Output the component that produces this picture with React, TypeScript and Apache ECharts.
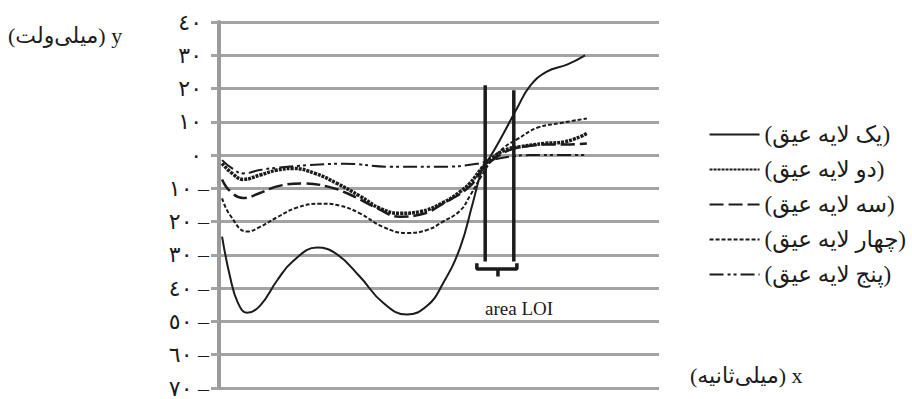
import React, { useEffect, useRef } from "react";
import * as echarts from "echarts";

// y axis ticks (millivolt)
const yMin = -70;
const yMax = 40;
const yStep = 10;

// legend names
const seriesNames = [
  "(یک لایه عیق)",
  "(دو لایه عیق)",
  "(سه لایه عیق)",
  "(چهار لایه عیق)",
  "(پنج لایه عیق)",
];

// series values [x (ms, arbitrary scale 0..100), y (mV)]
const oneLayer = [
  [0.7, -24.5], [2.5, -36.5], [4.3, -44.4], [6.4, -47.4], [9.3, -45.3], [13.2, -37.7],
  [16.8, -31.9], [22.3, -27.8], [26.8, -29.8], [32, -36.5], [37.3, -44.4], [42.7, -47.9],
  [47.3, -45.3], [50.9, -38.6], [54.8, -27.8], [57.7, -14.3], [60, -3.5], [61.6, -0.6],
  [64.5, 6.1], [67.7, 14], [70.7, 20.8], [74.5, 25.1], [79.1, 27.2], [83.2, 30],
];
const twoLayer = [
  [0.7, -2.5], [3, -5.5], [5.5, -7.3], [9.3, -6], [13.2, -4.5], [16.8, -4], [21.8, -5.5],
  [26.8, -8.5], [32, -12.3], [36.6, -16], [41.1, -17.5], [45.7, -17], [50.9, -14.3],
  [54.8, -11], [57, -8.5], [60, -3.5], [62, -1], [65, 1.5], [68.4, 2.5], [74, 3.5],
  [78.6, 4], [83.6, 6.5],
];
const threeLayer = [
  [0.7, -7.3], [2.5, -10.8], [5.5, -12.9], [9.3, -11.4], [13.2, -9.4], [19, -8.5],
  [24.5, -9.4], [29.5, -11.7], [35.7, -15.8], [41.1, -18.5], [46, -17.8], [50.9, -14.6],
  [57, -9.4], [60, -4], [62.7, -1], [66, 1.5], [70.7, 2.8], [75.2, 3.2], [79.8, 3.2],
  [83.6, 3.5],
];
const fourLayer = [
  [0.7, -13], [2.5, -18], [6.4, -23], [9.3, -21.6], [13.2, -18.7], [17.7, -15.8],
  [23, -14.6], [27.5, -15.2], [32, -17.5], [37.3, -21.6], [42.7, -23.4], [47.3, -22.5],
  [50.9, -20], [54.8, -16.7], [57, -12.3], [60, -5.5], [62, -1.5], [65, 2.5], [67.7, 4.7],
  [72.3, 8.2], [77.5, 9.6], [83.6, 11],
];
const fiveLayer = [
  [0.7, -1.5], [3, -4], [5.5, -5.5], [9.3, -4.5], [13.2, -3.8], [20.7, -3], [28.2, -2.6],
  [39.5, -3.5], [50.9, -3.5], [58.6, -2.6], [62, -1.5], [66, -0.5], [70.7, 0], [83.6, 0],
];

// LOI markers
const loiLeft = [[60.5, 21], [60.5, -32]];
const loiRight = [[67, 19.5], [67, -32]];
const loiBracket = [[58.6, -32.5], [58.6, -34.2], [67.7, -34.2], [67.7, -32.5]];
const loiBracketTick = [[63.4, -34.2], [63.4, -36.5]];

const arabicDigits = ["٠", "١", "٢", "٣", "٤", "٥", "٦", "٧", "٨", "٩"];
const toArabic = (n: number) =>
  String(Math.abs(n))
    .split("")
    .map((c) => arabicDigits[Number(c)] ?? c)
    .join("");

const INK = "#1b1b1b";
const GRID = "#a3a3a3";
const FONT = "'Liberation Serif', 'DejaVu Sans', serif";

export default function App() {
  const ref = useRef<HTMLDivElement>(null);
  useEffect(() => {
    if (!ref.current) return;
    const chart = echarts.init(ref.current, undefined, { renderer: "svg" });
    const lineSeries = (name: string, data: number[][], lineStyle: any) => ({
      name,
      type: "line",
      data,
      smooth: 0.45,
      symbol: "none",
      lineStyle: { color: INK, ...lineStyle },
      itemStyle: { color: INK },
      z: 3,
    });
    const markSeries = (data: number[][]) => ({
      type: "line",
      data,
      symbol: "none",
      smooth: false,
      lineStyle: { color: INK, width: 3.5 },
      z: 4,
      silent: true,
    });
    chart.setOption({
      animation: false,
      grid: { left: 219, right: 253, top: 22, bottom: 2, containLabel: false },
      xAxis: { type: "value", min: 0, max: 100, show: false },
      yAxis: {
        type: "value",
        min: yMin,
        max: yMax,
        interval: yStep,
        axisLine: { show: true, lineStyle: { color: "#9a9a9a", width: 4 } },
        axisTick: { show: true, length: 8, lineStyle: { color: GRID, width: 3 } },
        splitLine: { show: true, lineStyle: { color: GRID, width: 3 } },
        axisLabel: {
          margin: 10,
          color: INK,
          fontFamily: FONT,
          fontSize: 22,
          formatter: (v: number) =>
            v < 0 ? `${toArabic(v)} –` : `{p|${toArabic(v)}}`,
          rich: { p: { padding: [0, 7, 0, 0], fontSize: 22, fontFamily: FONT, color: INK } },
        },
      },
      legend: {
        data: seriesNames,
        orient: "vertical",
        right: 6,
        top: 122,
        itemWidth: 50,
        itemHeight: 14,
        itemGap: 10,
        padding: 0,
        itemStyle: { opacity: 0 },
        textStyle: { fontFamily: FONT, fontSize: 23, color: INK, lineHeight: 25 },
        inactiveColor: INK,
        selectedMode: false,
      },
      graphic: [
        {
          type: "text",
          left: 8,
          top: 24,
          style: { text: "(میلی\u200cولت) y", fontFamily: FONT, fontSize: 22, fill: INK },
        },
        {
          type: "text",
          left: 690,
          top: 364,
          style: { text: "(میلی\u200cثانیه) x", fontFamily: FONT, fontSize: 22, fill: INK },
        },
        {
          type: "text",
          left: 485,
          top: 299,
          style: { text: "area LOI", fontFamily: FONT, fontSize: 19, fill: INK },
        },
      ],
      series: [
        lineSeries(seriesNames[0], oneLayer, { width: 2, type: "solid" }),
        lineSeries(seriesNames[1], twoLayer, { width: 3.5, type: [3, 1] }),
        lineSeries(seriesNames[2], threeLayer, { width: 2.5, type: [14, 5] }),
        lineSeries(seriesNames[3], fourLayer, { width: 2, type: [4, 2] }),
        lineSeries(seriesNames[4], fiveLayer, { width: 2, type: [14, 4, 3, 3, 3, 4] }),
        markSeries(loiLeft),
        markSeries(loiRight),
        markSeries(loiBracket),
        markSeries(loiBracketTick),
      ],
    });
    return () => chart.dispose();
  }, []);
  return (
    <div
      ref={ref}
      style={{ position: "fixed", left: 0, top: 0, width: 912, height: 399, background: "#fff" }}
    />
  );
}
